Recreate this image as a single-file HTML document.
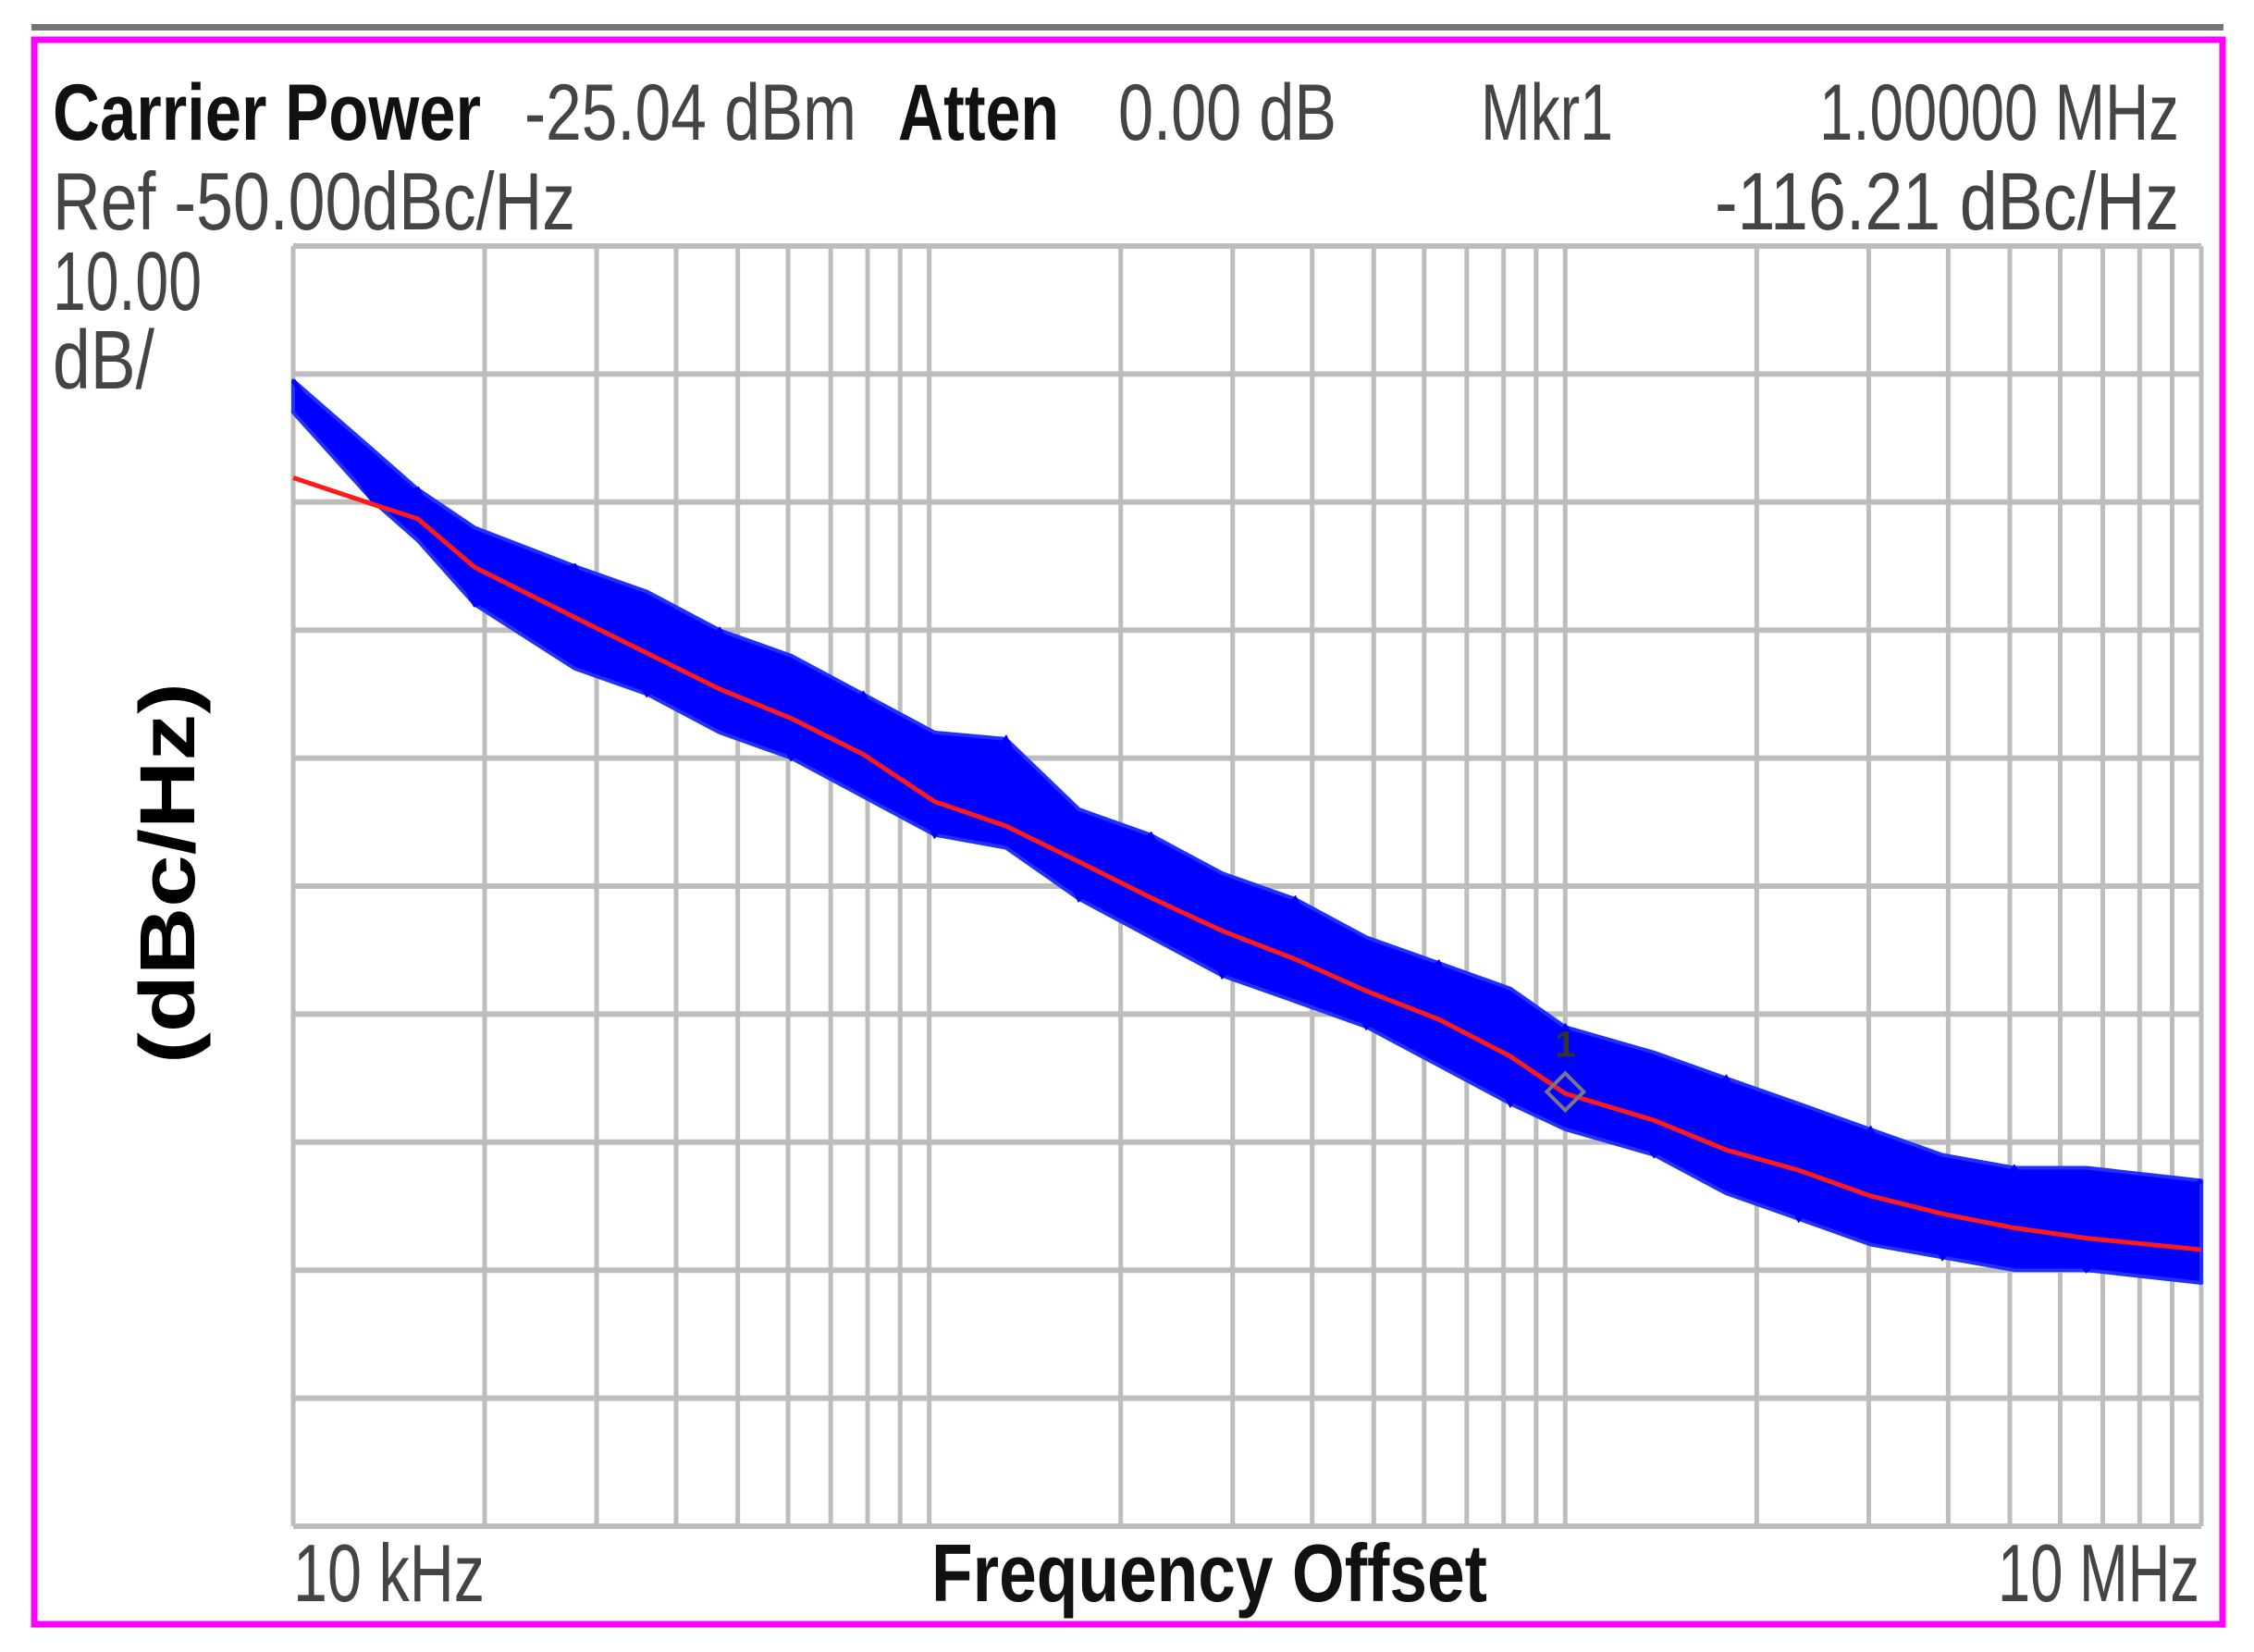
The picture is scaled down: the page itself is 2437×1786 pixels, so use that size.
<!DOCTYPE html>
<html><head><meta charset="utf-8"><style>
html,body{margin:0;padding:0;background:#fff;}
svg{display:block;}
</style></head><body>
<svg id="chart" width="2437" height="1786" viewBox="0 0 2437 1786" xmlns="http://www.w3.org/2000/svg" font-family="'Liberation Sans', sans-serif">
<rect x="0" y="0" width="2437" height="1786" fill="#fff"/>
<rect x="34" y="26" width="2370" height="7" fill="#707870"/>
<rect x="37" y="43" width="2366" height="1713" fill="none" stroke="#ff00ff" stroke-width="7"/>
<g id="grid"></g>
<g id="series"></g>
<g>
<text x="57" y="151" font-size="86" font-weight="bold" fill="#111" textLength="463" lengthAdjust="spacingAndGlyphs">Carrier Power</text>
<text x="567" y="151" font-size="86" fill="#444" textLength="359" lengthAdjust="spacingAndGlyphs">-25.04 dBm</text>
<text x="971" y="151" font-size="86" font-weight="bold" fill="#111" textLength="174" lengthAdjust="spacingAndGlyphs">Atten</text>
<text x="1209" y="151" font-size="86" fill="#444" textLength="236" lengthAdjust="spacingAndGlyphs">0.00 dB</text>
<text x="1601" y="151" font-size="86" fill="#444" textLength="143" lengthAdjust="spacingAndGlyphs">Mkr1</text>
<text x="1967" y="151" font-size="86" fill="#444" textLength="389" lengthAdjust="spacingAndGlyphs">1.00000 MHz</text>
<text x="57" y="248" font-size="88" fill="#444" textLength="565" lengthAdjust="spacingAndGlyphs">Ref -50.00dBc/Hz</text>
<text x="1854" y="248" font-size="88" fill="#444" textLength="502" lengthAdjust="spacingAndGlyphs">-116.21 dBc/Hz</text>
<text x="57" y="335" font-size="90" fill="#444" textLength="161" lengthAdjust="spacingAndGlyphs">10.00</text>
<text x="57" y="420" font-size="90" fill="#444" textLength="110" lengthAdjust="spacingAndGlyphs">dB/</text>
<text transform="translate(210,944) rotate(-90)" text-anchor="middle" font-size="84" font-weight="bold" fill="#000" textLength="412" lengthAdjust="spacingAndGlyphs">(dBc/Hz)</text>
<text x="317" y="1731" font-size="88" fill="#444" textLength="207" lengthAdjust="spacingAndGlyphs">10 kHz</text>
<text x="1007" y="1731" font-size="88" font-weight="bold" fill="#111" textLength="601" lengthAdjust="spacingAndGlyphs">Frequency Offset</text>
<text x="2160" y="1731" font-size="88" fill="#444" textLength="218" lengthAdjust="spacingAndGlyphs">10 MHz</text>
</g>
</svg>
<script>
const freqs = [1e4,13.4e3,15.7e3,19.3e3,27.7e3,36e3,46.8e3,60.7e3,78.7e3,102e3,132e3,172e3,223e3,289e3,376e3,487e3,632e3,820e3,1e6,1.38e6,1.79e6,2.33e6,3.02e6,3.92e6,5.08e6,6.6e6,1e7];
const smoothDb = [-68.1,-70.2,-71.3,-75.1,-79.0,-81.8,-84.6,-86.9,-89.7,-93.4,-95.3,-98.1,-100.9,-103.5,-105.7,-108.2,-110.4,-113.3,-116.2,-118.3,-120.6,-122.2,-124.2,-125.6,-126.7,-127.5,-128.4];
const noiseUpper = [-60.5,-66,-69,-72,-75,-77,-80,-82,-85,-88,-88.5,-94,-96,-99,-101,-104,-106,-108,-111,-113,-115,-117,-119,-121,-122,-122,-123];
const noiseLower = [-63,-70,-73,-78,-83,-85,-88,-90,-93,-96,-97,-101,-104,-107,-109,-111,-114,-117,-119,-121,-124,-126,-128,-129,-130,-130,-131];
const markerFreq = 1e6;
const markerDb = -116.21;
const refLevel = -50, dbPerDiv = 10, divisions = 10;
const fStart = 1e4, fStop = 1e7;

const L=317,R=2380,T=266,B=1650;
function X(f){return L+(Math.log10(f)-Math.log10(fStart))/(Math.log10(fStop)-Math.log10(fStart))*(R-L);}
function Y(db){return T+(refLevel-db)/(dbPerDiv*divisions)*(B-T);}
const NS="http://www.w3.org/2000/svg";
function mk(tag,attrs,parent){const e=document.createElementNS(NS,tag);for(const k in attrs)e.setAttribute(k,attrs[k]);parent.appendChild(e);return e;}
const grid=document.getElementById('grid');
for(let i=0;i<=divisions;i++){
  const y=Y(refLevel-i*dbPerDiv);
  const ln=mk('line',{x1:L,x2:R,y1:y,y2:y,stroke:'#bdbdbd','stroke-width':6},grid);
  
  
}
for(let d=4;d<7;d++){for(let m=1;m<=9;m++){
  const x=X(m*Math.pow(10,d));
  const ln=mk('line',{x1:x,x2:x,y1:T,y2:B,stroke:'#bdbdbd','stroke-width':5},grid);
  
  
}}
{const x=X(fStop);const ln=mk('line',{x1:x,x2:x,y1:T,y2:B,stroke:'#bdbdbd','stroke-width':5},grid);

}
const ser=document.getElementById('series');
let pts=freqs.map((f,i)=>X(f)+','+Y(noiseUpper[i]));
for(let i=freqs.length-1;i>=0;i--)pts.push(X(freqs[i])+','+Y(noiseLower[i]));
const band=mk('polygon',{points:pts.join(' '),fill:'#0000ff',stroke:'#2030ff','stroke-width':4,'stroke-linejoin':'round'},ser);


const zz=freqs.map((f,i)=>X(f)+','+Y(i%2?noiseLower[i]:noiseUpper[i])).join(' ');
const zig=mk('polyline',{points:zz,fill:'none',stroke:'#0000ff','stroke-width':5},ser);


const sm=mk('polyline',{points:freqs.map((f,i)=>X(f)+','+Y(smoothDb[i])).join(' '),fill:'none',stroke:'#ff1a1a','stroke-width':5},ser);


const mx=X(markerFreq),my=Y(markerDb)-2;
const dm=mk('polygon',{points:`${mx},${my-20} ${mx+20},${my} ${mx},${my+20} ${mx-20},${my}`,fill:'none',stroke:'#778','stroke-width':4},ser);


const mt=mk('text',{x:mx,y:my-38,'text-anchor':'middle','font-size':40,'font-weight':'bold',fill:'#333'},ser);
mt.textContent='1';


</script>
</body></html>
